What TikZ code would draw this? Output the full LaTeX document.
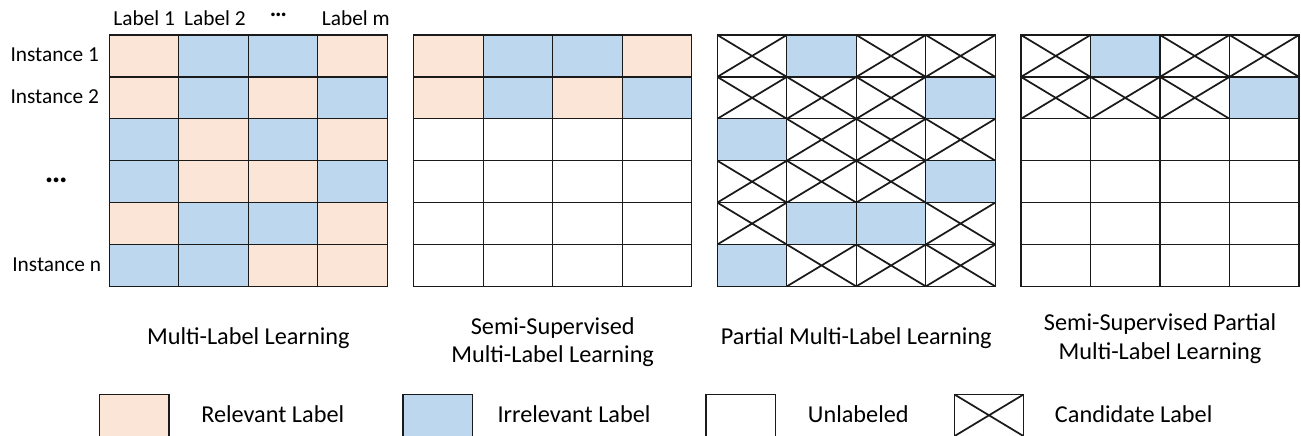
\documentclass[tikz,border=0pt]{standalone}
\usepackage{fontspec}
\setmainfont{Carlito}
\definecolor{relc}{HTML}{FBE5D6}
\definecolor{irrc}{HTML}{BDD7EE}
\definecolor{gridc}{HTML}{1A1A1A}
\tikzset{
  cell/.style={draw=gridc, line width=1pt, minimum width=52.125pt, minimum height=31.425pt,
               inner sep=0pt, outer sep=0pt},
  cellR/.style={cell, fill=relc},
  cellI/.style={cell, fill=irrc},
  cellU/.style={cell, fill=white},
  cellC/.style={cell, fill=white, path picture={
      \draw[gridc, line width=1.3pt]
        (path picture bounding box.north west) -- (path picture bounding box.south east)
        (path picture bounding box.south west) -- (path picture bounding box.north east);}},
  hdr/.style={font=\fontsize{16}{19}\selectfont, inner sep=0pt, anchor=base},
  captext/.style={font=\fontsize{18.2}{21.5}\selectfont, align=center, inner sep=0pt, anchor=base},
  legtext/.style={font=\fontsize{18.2}{21.5}\selectfont, inner sep=0pt, anchor=base west},
}
\begin{document}
\begin{tikzpicture}[x=0.75pt, y=-0.75pt]
\useasboundingbox (0,0) rectangle (1301,435);

% four 6x4 label matrices
\foreach \g/\gx/\rows in {
  1/109.3/{{R,I,I,R},{R,I,R,I},{I,R,I,R},{I,R,R,I},{R,I,I,R},{I,I,R,R}},
  2/413.7/{{R,I,I,R},{R,I,R,I},{U,U,U,U},{U,U,U,U},{U,U,U,U},{U,U,U,U}},
  3/717.3/{{C,I,C,C},{C,C,C,I},{I,C,C,C},{C,C,C,I},{C,I,I,C},{I,C,C,C}},
  4/1021/{{C,I,C,C},{C,C,C,I},{U,U,U,U},{U,U,U,U},{U,U,U,U},{U,U,U,U}}} {
  \foreach [count=\r] \row in \rows {
    \foreach [count=\c] \t in \row {
      \node[cell\t] (g\g-\r-\c) at ({\gx+(\c-0.5)*69.5}, {35+(\r-0.5)*41.9}) {};
    }
  }
}

% column headers
\node[hdr] (lab1) at (144.2,26) {Label 1};
\node[hdr] (lab2) at (215,26) {Label 2};
\node[hdr, font=\fontsize{18}{21}\selectfont\bfseries] (labdots) at (278.3,16.5) {…};
\node[hdr] (labm) at (355.8,26) {Label m};

% row headers
\node[hdr] (ins1) at (54.7,61.7) {Instance 1};
\node[hdr] (ins2) at (54.7,103.6) {Instance 2};
\node[hdr, font=\fontsize{24}{28}\selectfont\bfseries] (insdots) at (56.3,182.5) {…};
\node[hdr] (insn) at (56.7,271.5) {Instance n};

% captions (base anchor sits on the last line)
\node[captext] (cap1) at (248.3,344) {Multi-Label Learning};
\node[captext] (cap2) at (552.7,362.7) {Semi-Supervised\\Multi-Label Learning};
\node[captext] (cap3) at (856.3,344) {Partial Multi-Label Learning};
\node[captext] (cap4) at (1160,359) {Semi-Supervised Partial\\Multi-Label Learning};

% legend
\node[cellR] (legR) at (134.3,415.3) {};
\node[legtext] (legRt) at (201,422.5) {Relevant Label};
\node[cellI] (legI) at (437.6,415.3) {};
\node[legtext] (legIt) at (497.3,422.5) {Irrelevant Label};
\node[cellU] (legU) at (740.9,415.3) {};
\node[legtext] (legUt) at (807.7,422.5) {Unlabeled};
\node[cellC] (legC) at (989,415.3) {};
\node[legtext] (legCt) at (1054.7,422.5) {Candidate Label};
\end{tikzpicture}
\end{document}
